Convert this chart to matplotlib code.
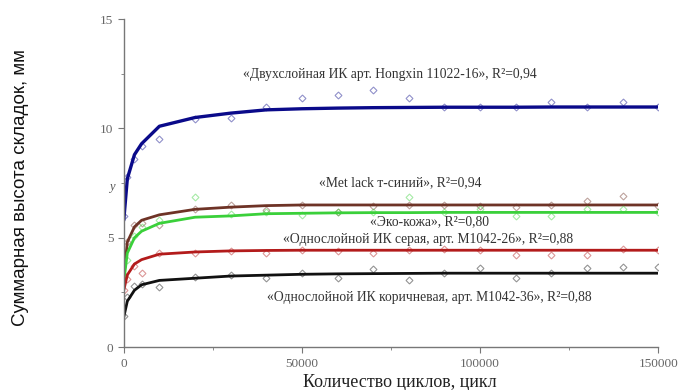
import matplotlib
matplotlib.use("Agg")
import matplotlib.pyplot as plt
from matplotlib.ticker import MultipleLocator

# cycles (x) at which points were measured / fit evaluated
cycles = [0, 1000, 3000, 5000, 10000, 20000, 30000, 40000, 50000, 60000,
          70000, 80000, 90000, 100000, 110000, 120000, 130000, 140000, 150000]

# measured points
blue_pts  = [6.0, 7.8, 8.6, 9.2, 9.5, 10.45, 10.5, 11.0, 11.4, 11.55,
             11.75, 11.4, 10.96, 10.96, 10.96, 11.2, 10.96, 11.2, 10.96]
brown_pts = [3.3, 4.8, 5.6, 5.66, 5.6, 6.3, 6.48, 6.26, 6.5, 6.16,
             6.44, 6.5, 6.5, 6.44, 6.4, 6.5, 6.7, 6.9, 6.44]
green_pts = [3.2, 4.0, 5.1, 5.5, 5.8, 6.85, 6.1, 6.2, 6.05, 6.16,
             6.2, 6.85, 6.2, 6.3, 6.0, 6.0, 6.3, 6.3, 6.2]
red_pts   = [2.6, 3.1, 3.7, 3.4, 4.3, 4.3, 4.4, 4.3, 4.45, 4.4,
             4.3, 4.45, 4.5, 4.45, 4.2, 4.2, 4.2, 4.5, 4.43]
black_pts = [1.4, 2.3, 2.8, 2.9, 2.75, 3.2, 3.3, 3.15, 3.4, 3.15,
             3.55, 3.05, 3.4, 3.6, 3.15, 3.38, 3.6, 3.65, 3.65]

# fitted curves
blue_fit  = [5.8, 7.7, 8.8, 9.3, 10.1, 10.5, 10.7, 10.85, 10.9, 10.93,
             10.95, 10.96, 10.97, 10.97, 10.97, 10.98, 10.98, 10.98, 10.98]
brown_fit = [3.2, 4.8, 5.5, 5.8, 6.05, 6.3, 6.4, 6.47, 6.5, 6.5,
             6.5, 6.5, 6.5, 6.5, 6.5, 6.5, 6.5, 6.5, 6.5]
green_fit = [3.0, 4.3, 5.0, 5.3, 5.66, 5.94, 6.0, 6.1, 6.12, 6.14,
             6.15, 6.15, 6.16, 6.16, 6.16, 6.16, 6.16, 6.16, 6.16]
red_fit   = [2.6, 3.3, 3.8, 4.0, 4.25, 4.35, 4.4, 4.42, 4.43, 4.43,
             4.43, 4.43, 4.43, 4.43, 4.43, 4.43, 4.43, 4.43, 4.43]
black_fit = [1.37, 2.1, 2.6, 2.85, 3.05, 3.15, 3.25, 3.29, 3.33, 3.35,
             3.36, 3.37, 3.38, 3.38, 3.38, 3.38, 3.38, 3.38, 3.38]

labels = ["«Двухслойная ИК арт. Hongxin 11022-16», R²=0,94",
          "«Met lack т-синий», R²=0,94",
          "«Эко-кожа», R²=0,80",
          "«Однослойной ИК серая, арт. M1042-26», R²=0,88",
          "«Однослойной ИК коричневая, арт. M1042-36», R²=0,88"]
label_x = [74700, 77500, 85700, 85400, 85700]
label_y = [12.45, 7.5, 5.72, 4.93, 2.25]

serif = "Liberation Serif"

fig = plt.figure(figsize=(6.8, 3.9), dpi=100)
ax = fig.add_axes([0.182, 0.110, 0.786, 0.841])

series = [
    (blue_pts, blue_fit, "#0a0a8a", 2.4),
    (brown_pts, brown_fit, "#6e3326", 2.0),
    (green_pts, green_fit, "#3ad03a", 2.0),
    (red_pts, red_fit, "#b31b1b", 2.0),
    (black_pts, black_fit, "#111111", 2.0),
]
for pts, fit, col, lw in series:
    ax.plot(cycles, pts, linestyle="none", marker="D", markersize=3.5,
            markerfacecolor="none", markeredgecolor=col, markeredgewidth=0.8,
            alpha=0.45)
    ax.plot(cycles, fit, color=col, linewidth=lw, solid_capstyle="round")

for txt, lx, ly in zip(labels, label_x, label_y):
    ax.text(lx, ly, txt, ha="center", va="center", fontsize=9.8,
            family=serif, color="#333333")

ax.set_xlim(0, 150000)
ax.set_ylim(0, 15)
ax.xaxis.set_major_locator(MultipleLocator(50000))
ax.xaxis.set_minor_locator(MultipleLocator(25000))
ax.yaxis.set_major_locator(MultipleLocator(5))
ax.yaxis.set_minor_locator(MultipleLocator(2.5))

for s in ["top", "right"]:
    ax.spines[s].set_visible(False)
for s in ["left", "bottom"]:
    ax.spines[s].set_color("#777777")
    ax.spines[s].set_linewidth(1.0)

ax.tick_params(which="major", length=4, color="#777777", labelcolor="#666666",
               labelsize=9.5)
ax.tick_params(which="minor", length=2, color="#777777")
for lab in ax.get_xticklabels() + ax.get_yticklabels():
    lab.set_family(serif)

ax.text(-2500, 7.3, "y", ha="right", va="center", fontsize=9,
        family=serif, style="italic", color="#555555")

fig.text(0.03, 0.52, "Суммарная высота складок, мм", rotation=90,
         ha="center", va="center", fontsize=13.5, family="Liberation Sans",
         color="#111111")
fig.text(0.588, 0.02, "Количество циклов, цикл", ha="center", va="center",
         fontsize=13, family=serif, color="#222222")

fig.savefig("out.png", dpi=100)
